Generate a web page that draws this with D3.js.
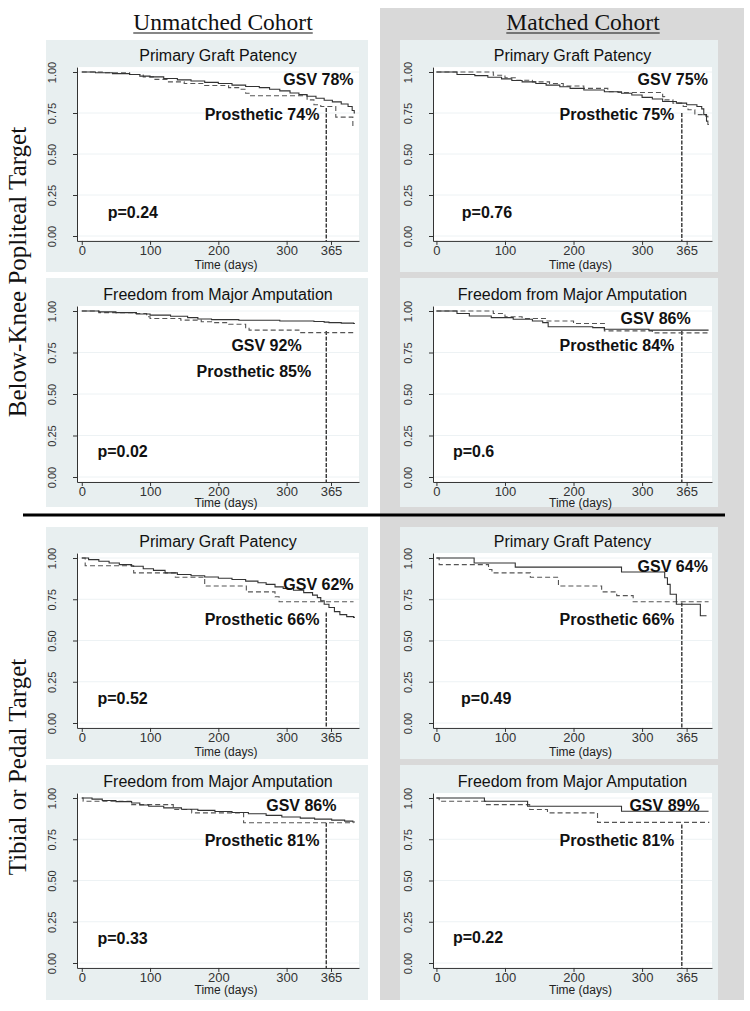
<!DOCTYPE html>
<html>
<head>
<meta charset="utf-8">
<script src="https://cdn.jsdelivr.net/npm/d3@7"></script>
<style>
  body { margin: 0; background: #fff; }
</style>
</head>
<body>
<script>

// ---- data ----
const colTitles = ["Unmatched Cohort", "Matched Cohort"];
const rowTitles = ["Below-Knee Popliteal Target", "Tibial or Pedal Target"];
const panelTitles = ["Primary Graft Patency", "Freedom from Major Amputation"];
const xTicks = [0, 100, 200, 300, 365];
const yTicks = [0, 0.25, 0.5, 0.75, 1];
const refDay = 358;

// Kaplan-Meier steps, [day, survival]
const bkUnmPatGsv = [[0,1],[20,0.995],[45,0.99],[70,0.985],[85,0.975],[100,0.97],[120,0.96],[140,0.952],[160,0.945],[180,0.937],[200,0.93],[220,0.92],[240,0.912],[260,0.905],[275,0.895],[290,0.885],[305,0.872],[318,0.862],[330,0.852],[343,0.84],[355,0.828],[367,0.818],[380,0.805],[390,0.79],[396,0.765],[399,0.75],[400,0.75]];
const bkUnmPatPro = [[0,1],[30,0.995],[70,0.985],[90,0.97],[105,0.955],[125,0.94],[150,0.93],[180,0.918],[215,0.905],[232,0.895],[240,0.87],[245,0.855],[330,0.83],[340,0.80],[350,0.79],[372,0.725],[397,0.67],[400,0.67]];
const bkMatPatGsv = [[0,1],[30,0.985],[56,0.978],[75,0.968],[95,0.958],[110,0.948],[125,0.94],[145,0.93],[160,0.92],[180,0.91],[195,0.9],[215,0.89],[245,0.88],[270,0.87],[285,0.86],[300,0.845],[315,0.835],[330,0.82],[350,0.81],[365,0.8],[380,0.79],[387,0.775],[390,0.74],[394,0.7],[396,0.7]];
const bkMatPatPro = [[0,1],[83,0.98],[100,0.965],[115,0.95],[140,0.94],[165,0.93],[185,0.915],[215,0.9],[250,0.88],[265,0.875],[330,0.85],[333,0.83],[345,0.81],[360,0.79],[367,0.77],[377,0.74],[393,0.73],[396,0.68],[398,0.68]];
const bkUnmAmpGsv = [[0,1],[25,0.995],[50,0.99],[80,0.982],[100,0.975],[130,0.968],[155,0.96],[170,0.952],[190,0.948],[230,0.944],[290,0.94],[340,0.937],[355,0.933],[362,0.93],[380,0.927],[398,0.925],[400,0.925]];
const bkUnmAmpPro = [[0,1],[25,0.99],[75,0.985],[95,0.965],[100,0.955],[145,0.945],[175,0.935],[190,0.93],[215,0.92],[240,0.9],[245,0.885],[318,0.87],[400,0.87]];
const bkMatAmpGsv = [[0,1],[30,0.985],[48,0.97],[80,0.96],[112,0.95],[140,0.94],[155,0.93],[163,0.905],[228,0.9],[245,0.89],[310,0.885],[397,0.885]];
const bkMatAmpPro = [[0,1],[83,0.985],[100,0.965],[125,0.955],[160,0.94],[200,0.925],[245,0.88],[315,0.868],[397,0.868]];
const tbUnmPatGsv = [[0,1],[10,0.99],[25,0.98],[40,0.97],[55,0.96],[73,0.95],[90,0.935],[105,0.925],[122,0.91],[140,0.9],[160,0.892],[180,0.885],[200,0.877],[220,0.87],[240,0.86],[258,0.85],[270,0.84],[283,0.825],[295,0.815],[310,0.805],[325,0.79],[338,0.775],[345,0.76],[350,0.74],[355,0.72],[362,0.7],[370,0.675],[378,0.657],[388,0.645],[398,0.64],[400,0.64]];
const tbUnmPatPro = [[0,1],[5,0.953],[76,0.91],[137,0.883],[180,0.83],[241,0.795],[283,0.765],[289,0.735],[398,0.735]];
const tbMatPatGsv = [[0,1],[55,0.97],[115,0.945],[270,0.915],[333,0.88],[337,0.84],[341,0.78],[350,0.72],[385,0.65],[394,0.65]];
const tbMatPatPro = [[0,1],[4,0.96],[76,0.93],[81,0.91],[137,0.883],[178,0.83],[241,0.795],[263,0.772],[287,0.735],[397,0.735]];
const tbUnmAmpGsv = [[0,1],[15,0.993],[30,0.985],[50,0.978],[73,0.97],[85,0.958],[98,0.95],[120,0.94],[146,0.932],[170,0.925],[195,0.918],[220,0.912],[244,0.905],[270,0.895],[293,0.885],[320,0.878],[341,0.872],[366,0.866],[385,0.86],[397,0.855],[400,0.855]];
const tbUnmAmpPro = [[0,1],[2,0.98],[73,0.96],[134,0.93],[161,0.91],[237,0.85],[398,0.85]];
const tbMatAmpGsv = [[0,1],[70,0.98],[133,0.95],[270,0.92],[397,0.92]];
const tbMatAmpPro = [[0,1],[4,0.98],[73,0.96],[136,0.93],[162,0.91],[235,0.852],[398,0.852]];

const gsvLabels = ["GSV 78%", "GSV 75%", "GSV 92%", "GSV 86%", "GSV 62%", "GSV 64%", "GSV 86%", "GSV 89%"];
const proLabels = ["Prosthetic 74%", "Prosthetic 75%", "Prosthetic 85%", "Prosthetic 84%", "Prosthetic 66%", "Prosthetic 66%", "Prosthetic 81%", "Prosthetic 81%"];
const pLabels = ["p=0.24", "p=0.76", "p=0.02", "p=0.6", "p=0.52", "p=0.49", "p=0.33", "p=0.22"];
const refTop = [0.78, 0.75, 0.88, 0.88, 0.67, 0.73, 0.85, 0.84];

// ---- layout ----
const rows = [
  {top: 40,  bottom: 272,  y1: 72,  y0: 236, timeDy: 28},
  {top: 278, bottom: 507,  y1: 311, y0: 477, timeDy: 25},
  {top: 527, bottom: 759,  y1: 558, y0: 723, timeDy: 28},
  {top: 765, bottom: 1000, y1: 798, y0: 963, timeDy: 26}
];
const cols = [
  {left: 46,  right: 368, x0: 77,  x1: 359, dom: [-7, 406]},
  {left: 400, right: 718, x0: 433, x1: 712, dom: [-5, 402]}
];
// annotation anchors in data units: [day, value]
const gsvPos = [[398,0.92],[396,0.92],[322,0.76],[371,0.92],[398,0.806],[396,0.915],[373,0.92],[384,0.92]];
const proPos = [[348,0.707],[347,0.707],[336,0.60],[347,0.76],[348,0.594],[347,0.594],[348,0.71],[347,0.71]];
const pPos   = [[38,0.11],[37,0.11],[23,0.12],[24,0.12],[23,0.115],[36,0.115],[23,0.115],[24,0.12]];

const curves = [
  [bkUnmPatGsv, bkUnmPatPro], [bkMatPatGsv, bkMatPatPro],
  [bkUnmAmpGsv, bkUnmAmpPro], [bkMatAmpGsv, bkMatAmpPro],
  [tbUnmPatGsv, tbUnmPatPro], [tbMatPatGsv, tbMatPatPro],
  [tbUnmAmpGsv, tbUnmAmpPro], [tbMatAmpGsv, tbMatAmpPro]
];

const sans = '"Liberation Sans", Arial, sans-serif';
const serif = '"Liberation Serif", "Times New Roman", serif';

const svg = d3.select("body").append("svg")
  .attr("width", 750)
  .attr("height", 1011);

// grey band behind the matched column
svg.append("rect")
  .attr("x", 380).attr("y", 8)
  .attr("width", 364).attr("height", 992)
  .attr("fill", "#d9d9d9");

// column titles
const colCenters = [223, 583];
colTitles.forEach((t, i) => {
  const txt = svg.append("text")
    .attr("x", colCenters[i]).attr("y", 30)
    .attr("text-anchor", "middle")
    .attr("font-family", serif)
    .attr("font-size", 23.5)
    .attr("fill", "#111")
    .text(t);
  const w = txt.node().getComputedTextLength();
  svg.append("line")
    .attr("x1", colCenters[i] - w / 2).attr("x2", colCenters[i] + w / 2)
    .attr("y1", 33).attr("y2", 33)
    .attr("stroke", "#111").attr("stroke-width", 1.2);
});

// row titles
const rowCenters = [272, 767];
rowTitles.forEach((t, i) => {
  svg.append("text")
    .attr("transform", `translate(26,${rowCenters[i]}) rotate(-90)`)
    .attr("text-anchor", "middle")
    .attr("font-family", serif)
    .attr("font-size", 25)
    .attr("fill", "#111")
    .text(t);
});

// separator between the two targets
svg.append("line")
  .attr("x1", 23).attr("x2", 725)
  .attr("y1", 515).attr("y2", 515)
  .attr("stroke", "#000").attr("stroke-width", 3);

const line = (x, y) => d3.line()
  .x(d => x(d[0]))
  .y(d => y(d[1]))
  .curve(d3.curveStepAfter);

curves.forEach((pair, i) => {
  const r = rows[Math.floor(i / 2)];
  const c = cols[i % 2];
  const g = svg.append("g");

  g.append("rect")
    .attr("x", c.left).attr("y", r.top)
    .attr("width", c.right - c.left).attr("height", r.bottom - r.top)
    .attr("fill", "#e8eff0");

  const pad = 0.03 * (r.y0 - r.y1);
  const y = d3.scaleLinear().domain([-0.03, 1.03]).range([r.y0 + pad, r.y1 - pad]);
  const x = d3.scaleLinear().domain(c.dom).range([c.x0, c.x1]);

  g.append("rect")
    .attr("x", c.x0).attr("y", y(1.03))
    .attr("width", c.x1 - c.x0).attr("height", y(-0.03) - y(1.03))
    .attr("fill", "#fff");

  g.selectAll(".grid")
    .data(yTicks)
    .enter()
    .append("line")
    .attr("x1", c.x0).attr("x2", c.x1)
    .attr("y1", d => y(d)).attr("y2", d => y(d))
    .attr("stroke", "#edf2f4");

  // title
  g.append("text")
    .attr("x", (c.x0 + c.x1) / 2).attr("y", r.y1 - 11)
    .attr("text-anchor", "middle")
    .attr("font-family", sans).attr("font-size", 16)
    .attr("fill", "#111")
    .text(panelTitles[Math.floor(i / 2) % 2]);

  // axes
  const ya = g.append("g")
    .attr("transform", `translate(${c.x0},0)`)
    .call(d3.axisLeft(y).tickValues(yTicks).tickFormat(d3.format(".2f")).tickSize(4).tickSizeOuter(0));
  ya.attr("font-family", sans).attr("font-size", 11).attr("color", "#333");
  ya.selectAll(".tick text")
    .attr("x", 0).attr("dy", 0)
    .attr("text-anchor", "middle")
    .attr("transform", "translate(-21,0) rotate(-90)");

  const xa = g.append("g")
    .attr("transform", `translate(0,${y(-0.03)})`)
    .call(d3.axisBottom(x).tickValues(xTicks).tickSize(4).tickPadding(1).tickSizeOuter(0));
  xa.attr("font-family", sans).attr("font-size", 13).attr("color", "#333");

  g.append("text")
    .attr("x", (c.x0 + c.x1) / 2 + 8).attr("y", y(-0.03) + r.timeDy)
    .attr("text-anchor", "middle")
    .attr("font-family", sans).attr("font-size", 12)
    .attr("fill", "#222")
    .text("Time (days)");

  // 365-day reference drop line
  g.append("line")
    .attr("x1", x(refDay)).attr("x2", x(refDay))
    .attr("y1", y(refTop[i])).attr("y2", y(-0.03))
    .attr("stroke", "#111").attr("stroke-width", 1.2)
    .attr("stroke-dasharray", "4,1.5");

  // curves
  g.append("path")
    .datum(pair[1])
    .attr("d", line(x, y))
    .attr("fill", "none")
    .attr("stroke", "#555").attr("stroke-width", 1.1)
    .attr("stroke-dasharray", "5,3");
  g.append("path")
    .datum(pair[0])
    .attr("d", line(x, y))
    .attr("fill", "none")
    .attr("stroke", "#333").attr("stroke-width", 1.1);

  // annotations
  const bold = (pos, txt, anchor) => g.append("text")
    .attr("x", x(pos[0])).attr("y", y(pos[1]))
    .attr("text-anchor", anchor)
    .attr("font-family", sans).attr("font-size", 16).attr("font-weight", "bold")
    .attr("fill", "#111")
    .text(txt);
  bold(gsvPos[i], gsvLabels[i], "end");
  bold(proPos[i], proLabels[i], "end");
  bold(pPos[i], pLabels[i], "start");
});

</script>
</body>
</html>
